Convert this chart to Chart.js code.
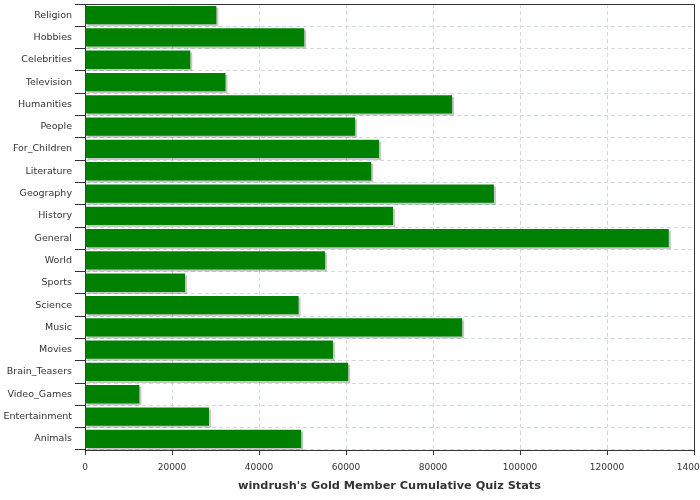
<!DOCTYPE html>
<html><head><meta charset="utf-8">
<script src="https://cdn.jsdelivr.net/npm/chart.js@4/dist/chart.umd.min.js"></script>
<style>html,body{margin:0;padding:0;background:#fff}#w{width:700px;height:500px}</style>
</head><body><div id="w"><canvas id="c"></canvas></div>
<script>
const categories = ["Religion","Hobbies","Celebrities","Television","Humanities","People","For_Children","Literature","Geography","History","General","World","Sports","Science","Music","Movies","Brain_Teasers","Video_Games","Entertainment","Animals"];
const values = [30200,50400,24200,32300,84400,62100,67600,65800,94000,70800,134200,55200,23000,49100,86700,57000,60500,12500,28500,49700];
const xTicks = [0,20000,40000,60000,80000,100000,120000,140000];
const axisTitle = "windrush's Gold Member Cumulative Quiz Stats";

const shadowPlugin = {
  id:'shadow',
  beforeDatasetsDraw(chart){const c=chart.ctx;c.save();c.shadowColor='rgba(0,0,0,0.22)';c.shadowOffsetX=2;c.shadowOffsetY=2;c.shadowBlur=0;},
  afterDatasetsDraw(chart){chart.ctx.restore();}
};
const framePlugin = {
  id:'frame',
  afterDraw(chart){const a=chart.chartArea,c=chart.ctx;c.save();c.strokeStyle='#333';c.lineWidth=1;
    c.beginPath();c.moveTo(Math.round(a.left)+0.5,Math.round(a.top)+0.5);c.lineTo(Math.round(a.right)+0.5,Math.round(a.top)+0.5);c.lineTo(Math.round(a.right)+0.5,Math.round(a.bottom)+0.5);c.stroke();c.restore();}
};

new Chart(document.getElementById('c'),{
  type:'bar',
  data:{labels:categories,datasets:[{data:values,backgroundColor:'#008000',borderWidth:0,categoryPercentage:0.82,barPercentage:1}]},
  options:{
    indexAxis:'y',responsive:true,maintainAspectRatio:false,animation:false,
    layout:{padding:{top:4,right:6,left:0,bottom:0}},
    plugins:{legend:{display:false},tooltip:{enabled:false}},
    scales:{
      x:{type:'linear',min:0,max:140000,
        afterBuildTicks(s){s.ticks=xTicks.map(v=>({value:v}));},
        afterFit(s){s.height=50;s.paddingLeft=0;s.paddingRight=0;},
        grid:{color:'#d3dadd',tickColor:'#333',tickLength:5,drawTicks:true},
        border:{display:true,color:'#333',dash:[4,3]},
        ticks:{color:'#333',font:{family:'DejaVu Sans',size:9},padding:7,maxRotation:0,callback:v=>String(v)},
        title:{display:true,text:axisTitle,color:'#333',font:{family:'DejaVu Sans',size:11.3,weight:'bold'},padding:{top:4,bottom:7}}
      },
      y:{
        afterFit(s){s.width=85;s.paddingTop=0;s.paddingBottom=0;},
        grid:{offset:true,color:'#d3dadd',tickColor:'#333',tickLength:10},
        border:{display:true,color:'#333',dash:[4,3]},
        ticks:{color:'#333',font:{family:'DejaVu Sans',size:9.5},padding:3,autoSkip:false}
      }
    }
  },
  plugins:[shadowPlugin,framePlugin]
});
</script></body></html>
